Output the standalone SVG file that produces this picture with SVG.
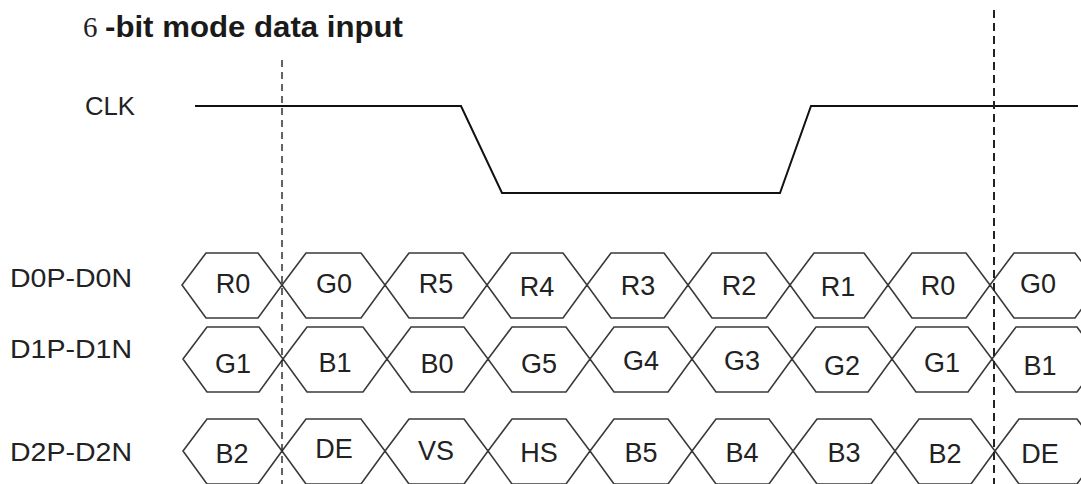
<svg xmlns="http://www.w3.org/2000/svg" width="1081" height="484" viewBox="0 0 1081 484">
<style>
.lbl{font-family:"Liberation Sans",Arial,sans-serif;font-size:25px;fill:#222}
.hx{font-family:"Liberation Sans",Arial,sans-serif;font-size:27px;fill:#222;text-anchor:middle}
.bus{fill:none;stroke:#3a3a3a;stroke-width:1.6;stroke-linejoin:miter}
.clk{fill:none;stroke:#111;stroke-width:2}
</style>
<rect width="1081" height="484" fill="#fff"/>
<g id="title">
<text x="83" y="37" font-family="'Liberation Serif','Times New Roman',serif" font-size="29" fill="#222">6</text>
<text x="105" y="37" font-family="'Liberation Sans',Arial,sans-serif" font-size="30" font-weight="bold" fill="#1a1a1a" textLength="298" lengthAdjust="spacingAndGlyphs">-bit mode data input</text>
</g>
<g id="labels">
<text class="lbl" x="85" y="115" textLength="50" lengthAdjust="spacingAndGlyphs">CLK</text>
<text class="lbl" x="10" y="287" textLength="122" lengthAdjust="spacingAndGlyphs">D0P-D0N</text>
<text class="lbl" x="10" y="358" textLength="122" lengthAdjust="spacingAndGlyphs">D1P-D1N</text>
<text class="lbl" x="10" y="461" textLength="122" lengthAdjust="spacingAndGlyphs">D2P-D2N</text>
</g>
<g id="clk">
<path class="clk" d="M195 106 H461 L502 193 H780 L811 106 H1078"/>
</g>
<g id="row0">
<path class="bus" d="M182 285 L206 253 L258 253 L282 285 L258 318 L206 318 Z M282 285 L306 253 L361 253 L385 285 L361 318 L306 318 Z M385 285 L409 253 L463 253 L487 285 L463 318 L409 318 Z M487 285 L511 253 L563 253 L587 285 L563 318 L511 318 Z M587 285 L611 253 L664 253 L688 285 L664 318 L611 318 Z M688 285 L712 253 L766 253 L790 285 L766 318 L712 318 Z M790 285 L814 253 L864 253 L888 285 L864 318 L814 318 Z M888 285 L912 253 L966 253 L990 285 L966 318 L912 318 Z M990 285 L1014 253 L1075 253 L1099 285 L1075 318 L1014 318 Z"/>
<text class="hx" x="233" y="293">R0</text>
<text class="hx" x="334" y="293">G0</text>
<text class="hx" x="436" y="293">R5</text>
<text class="hx" x="537" y="296">R4</text>
<text class="hx" x="638" y="295">R3</text>
<text class="hx" x="739" y="295">R2</text>
<text class="hx" x="838" y="296">R1</text>
<text class="hx" x="938" y="295">R0</text>
<text class="hx" x="1038" y="293">G0</text>
</g>
<g id="row1">
<path class="bus" d="M183 359 L207 327 L259 327 L283 359 L259 392 L207 392 Z M283 359 L307 327 L363 327 L387 359 L363 392 L307 392 Z M387 359 L411 327 L464 327 L488 359 L464 392 L411 392 Z M488 359 L512 327 L566 327 L590 359 L566 392 L512 392 Z M590 359 L614 327 L668 327 L692 359 L668 392 L614 392 Z M692 359 L716 327 L768 327 L792 359 L768 392 L716 392 Z M792 359 L816 327 L868 327 L892 359 L868 392 L816 392 Z M892 359 L916 327 L968 327 L992 359 L968 392 L916 392 Z M992 359 L1016 327 L1077 327 L1101 359 L1077 392 L1016 392 Z"/>
<text class="hx" x="233" y="373">G1</text>
<text class="hx" x="335" y="372">B1</text>
<text class="hx" x="437" y="373">B0</text>
<text class="hx" x="539" y="373">G5</text>
<text class="hx" x="641" y="370">G4</text>
<text class="hx" x="742" y="370">G3</text>
<text class="hx" x="842" y="375">G2</text>
<text class="hx" x="942" y="372">G1</text>
<text class="hx" x="1040" y="375">B1</text>
</g>
<g id="row2">
<path class="bus" d="M183 451 L207 419 L258 419 L282 451 L258 484 L207 484 Z M282 451 L306 419 L361 419 L385 451 L361 484 L306 484 Z M385 451 L409 419 L464 419 L488 451 L464 484 L409 484 Z M488 451 L512 419 L566 419 L590 451 L566 484 L512 484 Z M590 451 L614 419 L668 419 L692 451 L668 484 L614 484 Z M692 451 L716 419 L769 419 L793 451 L769 484 L716 484 Z M793 451 L817 419 L871 419 L895 451 L871 484 L817 484 Z M895 451 L919 419 L971 419 L995 451 L971 484 L919 484 Z M995 451 L1019 419 L1077 419 L1101 451 L1077 484 L1019 484 Z"/>
<text class="hx" x="232" y="463">B2</text>
<text class="hx" x="334" y="458">DE</text>
<text class="hx" x="436" y="460">VS</text>
<text class="hx" x="539" y="462">HS</text>
<text class="hx" x="641" y="462">B5</text>
<text class="hx" x="742" y="462">B4</text>
<text class="hx" x="844" y="462">B3</text>
<text class="hx" x="945" y="463">B2</text>
<text class="hx" x="1040" y="463">DE</text>
</g>
<g id="markers">
<line x1="282" y1="60" x2="282" y2="484" stroke="#222" stroke-width="1.4" stroke-dasharray="7 5"/>
<line x1="994" y1="10" x2="994" y2="484" stroke="#222" stroke-width="2" stroke-dasharray="8 5"/>
</g>
</svg>
